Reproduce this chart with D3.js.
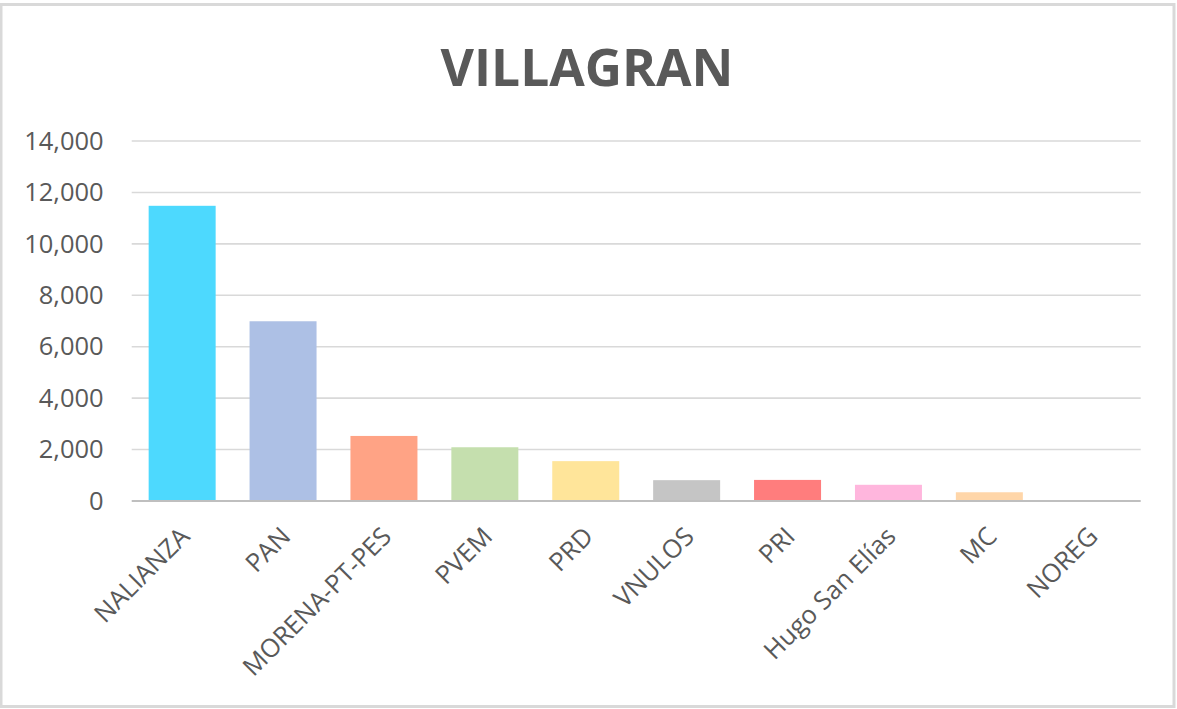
<!DOCTYPE html>
<html>
<head>
<meta charset="utf-8">
<script src="https://cdn.jsdelivr.net/npm/d3@7/dist/d3.min.js"></script>
<style>
html,body{margin:0;padding:0;background:#fff;}
svg{display:block;}
</style>
</head>
<body>
<svg id="chart" width="1177" height="709"></svg>
<script>
const categories = ["NALIANZA","PAN","MORENA-PT-PES","PVEM","PRD","VNULOS","PRI","Hugo San Elías","MC","NOREG"];
const votes = [11480, 6990, 2530, 2090, 1550, 810, 820, 630, 340, 0];
const barColors = ["#4dd9fe","#adc0e5","#ffa385","#c5dfae","#ffe59a","#c5c5c5","#ff7d7d","#ffb6dd","#ffd6a9","#cccccc"];
const yTicks = [0,2000,4000,6000,8000,10000,12000,14000];
const title = "VILLAGRAN";

const W = 1177, H = 709;
const m = {left:131.7, right:1140.7, top:141, bottom:501};
const svg = d3.select("#chart");

// outer frame
svg.append("rect").attr("x",1).attr("y",4.5).attr("width",1173).attr("height",702)
  .attr("fill","#fff").attr("stroke","#d9d9d9").attr("stroke-width",3);

const x = d3.scaleBand().domain(categories).range([m.left, m.right]).paddingInner(0.336).paddingOuter(0.168);
const y = d3.scaleLinear().domain([0,14000]).range([m.bottom, m.top]);

// gridlines
svg.append("g").selectAll("line").data(yTicks.filter(d=>d>0)).join("line")
  .attr("x1",m.left).attr("x2",m.right)
  .attr("y1",d=>y(d)).attr("y2",d=>y(d))
  .attr("stroke","#d9d9d9").attr("stroke-width",1.6);

// y labels
const yAxis = d3.axisLeft(y).tickValues(yTicks).tickFormat(d3.format(",")).tickSize(0).tickPadding(0);
const gy = svg.append("g").attr("transform",`translate(${m.left-28},0)`).call(yAxis);
gy.select(".domain").remove();
gy.selectAll("text").attr("font-family","'Open Sans', sans-serif").attr("font-size",25.5).attr("fill","#595959");

// bars
svg.append("g").selectAll("rect").data(categories).join("rect")
  .attr("x",d=>x(d)).attr("width",x.bandwidth())
  .attr("y",(d,i)=>y(votes[i])).attr("height",(d,i)=>y(0)-y(votes[i]))
  .attr("fill",(d,i)=>barColors[i]);

// baseline
svg.append("line").attr("x1",m.left).attr("x2",m.right).attr("y1",y(0)).attr("y2",y(0))
  .attr("stroke","#bfbfbf").attr("stroke-width",2);

// x labels
const xAxis = d3.axisBottom(x).tickSize(0).tickPadding(0);
const gx = svg.append("g").attr("transform",`translate(0,${y(0)})`).call(xAxis);
gx.select(".domain").remove();
gx.selectAll("text")
  .attr("font-family","'Open Sans', sans-serif").attr("font-size",25.5).attr("fill","#595959")
  .attr("text-anchor","end").attr("dy",0).attr("y",0)
  .attr("transform","translate(9,37) rotate(-45)");

// title
svg.append("text").attr("x",587).attr("y",86).attr("text-anchor","middle")
  .attr("font-family","'Open Sans', sans-serif").attr("font-weight","bold")
  .attr("font-size",51.5).attr("fill","#595959").text(title);
</script>
</body>
</html>
